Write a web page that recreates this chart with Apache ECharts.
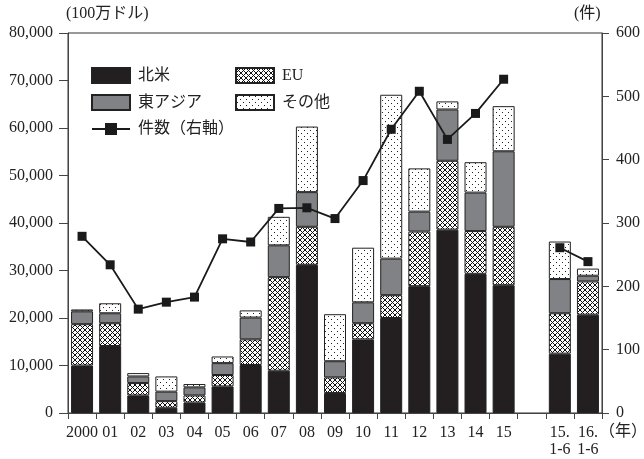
<!DOCTYPE html>
<html>
<head>
<meta charset="utf-8">
<script src="https://cdn.jsdelivr.net/npm/echarts@6/dist/echarts.min.js"></script>
<style>
  html, body { margin: 0; padding: 0; background: #fff; }
  #main { width: 644px; height: 459px; }
</style>
</head>
<body>
<div id="main"></div>
<script>
var years = ['2000', '01', '02', '03', '04', '05', '06', '07', '08', '09', '10', '11', '12', '13', '14', '15', '', '15.\n1-6', '16.\n1-6'];
// 100万ドル
var northAmerica = [10000, 14100, 3700, 1100, 2200, 5600, 10100, 8900, 31200, 4200, 15500, 20000, 26700, 38600, 29300, 26900, null, 12500, 20700];
var eu = [8700, 4800, 2600, 1400, 1500, 2400, 5400, 19700, 8000, 3300, 3400, 4800, 11500, 14500, 9000, 12300, null, 8500, 7000];
var eastAsia = [2700, 2100, 1400, 2000, 1700, 2500, 4600, 6700, 7300, 3400, 4400, 7700, 4200, 10800, 8100, 15900, null, 7200, 1200];
var others = [400, 2100, 700, 3200, 700, 1400, 1500, 6000, 13800, 9900, 11500, 34500, 9100, 1700, 6400, 9500, null, 7900, 1500];
// 件
var cases = [279, 234, 164, 175, 183, 275, 270, 323, 324, 307, 367, 448, 508, 432, 473, 527, null, 261, 239];

var FONT = "'Liberation Serif', 'Noto Sans CJK JP', serif";

// fill patterns
function makeHatch() {
  var c = document.createElement('canvas');
  c.width = 5; c.height = 5;
  var ctx = c.getContext('2d');
  ctx.fillStyle = '#fff';
  ctx.fillRect(0, 0, 5, 5);
  ctx.fillStyle = '#111';
  for (var i = 0; i < 5; i++) {
    ctx.fillRect(i, i, 1, 1);
    ctx.fillRect(4 - i, i, 1, 1);
  }
  return c;
}
function makeDots() {
  var c = document.createElement('canvas');
  c.width = 6; c.height = 6;
  var ctx = c.getContext('2d');
  ctx.fillStyle = '#fff';
  ctx.fillRect(0, 0, 6, 6);
  ctx.fillStyle = '#222';
  ctx.fillRect(1, 1, 1, 1);
  ctx.fillRect(4, 4, 1, 1);
  return c;
}

var chart = echarts.init(document.getElementById('main'));

function barSeries(name, data, color) {
  return {
    name: name,
    type: 'bar',
    stack: 'total',
    barWidth: 22,
    data: data,
    itemStyle: {
      color: color,
      borderColor: '#222',
      borderWidth: 1
    },
    emphasis: { disabled: true }
  };
}

var legendText = { fontSize: 16, color: '#222', fontFamily: FONT, padding: [0, 0, 0, 3] };

var option = {
  animation: false,
  textStyle: { fontFamily: FONT },
  grid: {
    left: 68, right: 42, top: 33, bottom: 46,
    show: true,
    borderColor: '#333',
    borderWidth: 1
  },
  legend: [
    {
      orient: 'vertical',
      left: 86, top: 62,
      itemWidth: 38, itemHeight: 15, itemGap: 10,
      textStyle: legendText,
      data: [{ name: '北米', icon: 'rect' }, { name: '東アジア', icon: 'rect' }, '件数（右軸）']
    },
    {
      orient: 'vertical',
      left: 230, top: 62,
      itemWidth: 38, itemHeight: 15, itemGap: 10,
      textStyle: legendText,
      data: [{ name: 'EU', icon: 'rect' }, { name: 'その他', icon: 'rect' }]
    }
  ],
  xAxis: {
    type: 'category',
    data: years,
    axisLine: { lineStyle: { color: '#444' } },
    axisTick: { show: true, length: 6, lineStyle: { color: '#444' } },
    axisLabel: {
      interval: 0, margin: 11, fontSize: 16, color: '#222',
      lineHeight: 17, fontFamily: FONT
    }
  },
  yAxis: [
    {
      type: 'value',
      min: 0, max: 80000, interval: 10000,
      splitLine: { show: false },
      axisLine: { show: true, lineStyle: { color: '#444' } },
      axisTick: { show: true, length: 9, lineStyle: { color: '#444' } },
      axisLabel: {
        margin: 15, fontSize: 16, color: '#222', fontFamily: FONT,
        formatter: function (v) { return v.toLocaleString('en-US'); }
      }
    },
    {
      type: 'value',
      min: 0, max: 600, interval: 100,
      splitLine: { show: false },
      axisLine: { show: true, lineStyle: { color: '#444' } },
      axisTick: { show: true, length: 7, lineStyle: { color: '#444' } },
      axisLabel: { margin: 14, fontSize: 16, color: '#222', fontFamily: FONT }
    }
  ],
  graphic: [
    { type: 'text', left: 66, top: 6, style: { text: '(100万ドル)', font: '16px ' + FONT, fill: '#222' } },
    { type: 'text', left: 574, top: 6, style: { text: '(件)', font: '16px ' + FONT, fill: '#222' } },
    { type: 'text', left: 599, top: 424, style: { text: '（年）', font: '16px ' + FONT, fill: '#222' } }
  ],
  series: [
    barSeries('北米', northAmerica, '#231f20'),
    barSeries('EU', eu, { image: makeHatch(), repeat: 'repeat' }),
    barSeries('東アジア', eastAsia, '#808285'),
    barSeries('その他', others, { image: makeDots(), repeat: 'repeat' }),
    {
      name: '件数（右軸）',
      type: 'line',
      yAxisIndex: 1,
      data: cases,
      connectNulls: false,
      symbol: 'rect',
      symbolSize: 9,
      z: 5,
      lineStyle: { color: '#1a1a1a', width: 1.8 },
      itemStyle: { color: '#1a1a1a' },
      emphasis: { disabled: true }
    }
  ]
};

chart.setOption(option);
</script>
</body>
</html>
